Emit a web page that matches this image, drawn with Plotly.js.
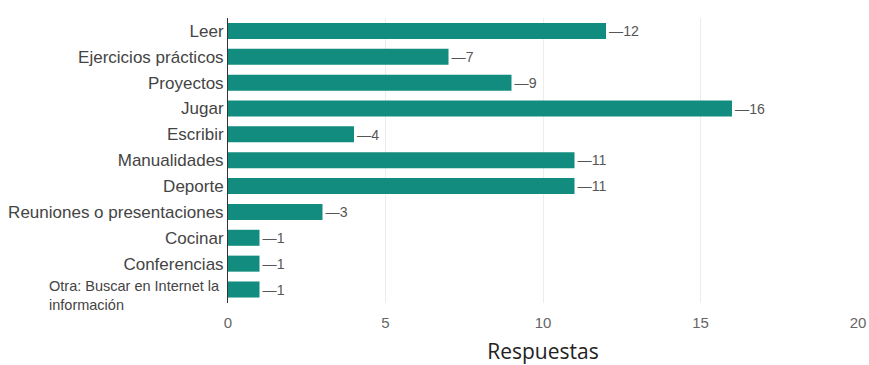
<!DOCTYPE html>
<html>
<head>
<meta charset="utf-8">
<script src="https://cdn.plot.ly/plotly-3.0.1.min.js"></script>
<style>html,body{margin:0;padding:0;background:#fff;}#chart{width:869px;height:365px;}</style>
</head>
<body>
<div id="chart"></div>
<script>
const categories = ["Leer", "Ejercicios prácticos", "Proyectos", "Jugar", "Escribir", "Manualidades", "Deporte", "Reuniones o presentaciones", "Cocinar", "Conferencias", "Otra: Buscar en Internet la<br>información"];
const values = [12, 7, 9, 16, 4, 11, 11, 3, 1, 1, 1];
const xTicks = [0, 5, 10, 15, 20];

const lastIdx = categories.length - 1;
const tickText = categories.map((c, i) => i === lastIdx ? "" : c);

const trace = {
  type: "bar",
  orientation: "h",
  y: categories,
  x: values,
  marker: { color: "#128c7e" },
  text: values.map(v => "—" + v),
  textposition: "outside",
  cliponaxis: false,
  textfont: { family: "Liberation Sans, Arial, sans-serif", size: 15, color: "#555" },
  hoverinfo: "none"
};

const layout = {
  width: 869, height: 365,
  margin: { l: 228, r: 11, t: 18, b: 62 },
  paper_bgcolor: "#fff", plot_bgcolor: "#fff",
  bargap: 0.38,
  showlegend: false,
  font: { family: "Liberation Sans, Arial, sans-serif", size: 13, color: "#444" },
  xaxis: {
    range: [0, 20],
    tickvals: xTicks,
    ticktext: xTicks.map(String),
    showgrid: true, gridcolor: "#ececec", gridwidth: 1,
    zeroline: false, showline: false,
    tickfont: { size: 15, color: "#666" },
    ticks: "", ticklen: 0,
    ticklabelstandoff: 9,
    title: { text: "Respuestas", font: { family: "Open Sans, Noto Sans, sans-serif", size: 21, color: "#222" }, standoff: 16 }
  },
  yaxis: {
    type: "category",
    categoryorder: "array",
    categoryarray: categories,
    autorange: "reversed",
    tickvals: categories,
    ticktext: tickText,
    showline: true, linecolor: "#333", linewidth: 1,
    showgrid: false, zeroline: false,
    ticks: "", ticklen: 0,
    tickfont: { size: 17, color: "#444" }
  },
  annotations: [{
    xref: "paper", yref: "y",
    x: 0, y: categories[lastIdx],
    xanchor: "right", yanchor: "middle",
    xshift: -6, yshift: -6,
    align: "left",
    text: categories[lastIdx],
    showarrow: false,
    font: { family: "Liberation Sans, Arial, sans-serif", size: 14.5, color: "#444" }
  }]
};

Plotly.newPlot("chart", [trace], layout, { displayModeBar: false, staticPlot: true });
</script>
</body>
</html>
